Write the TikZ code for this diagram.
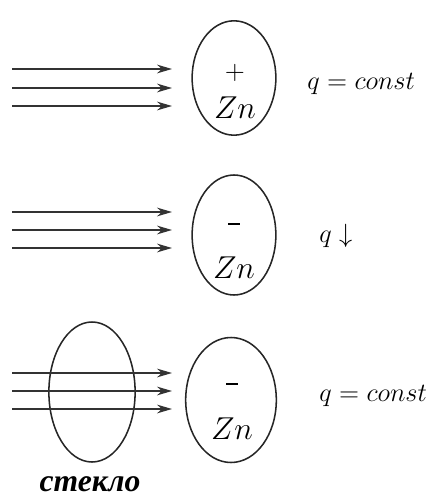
\documentclass[tikz,border=0pt]{standalone}
\usepackage{fontspec}
\newfontfamily\cyrfont{Liberation Serif}
\usetikzlibrary{shapes.geometric, arrows.meta, positioning}
\newcommand{\negsign}{\rule[0.6ex]{1.8mm}{0.55pt}}
\tikzset{
    plate/.style={ellipse, draw=black!85, line width=0.7pt, inner sep=0pt,
                  minimum width=13.4mm, minimum height=18.3mm},
    ray/.style={-{Stealth[length=2.4mm, width=1.4mm]}, line width=0.65pt, draw=black!80},
    chg/.style={font=\Large, inner sep=1pt},
    qlbl/.style={font=\large, anchor=west, inner sep=0pt},
}

\begin{document}
\begin{tikzpicture}[x=0.16mm, y=-0.16mm]
    \useasboundingbox (0,0) rectangle (428,497);
    % positive plate
    \node[plate] (zn1) at (234,78) {};
    \node[chg, font=\large] (s1) at (235,73) {$+$};
    \node[chg] (n1) at (235,108) {$Zn$};
    \node[qlbl] (q1) at (307,84) {$q = const$};
    % negative plate
    \node[plate, minimum height=19.2mm] (zn2) at (234,235) {};
    \node[chg] (s2) at (234,228) {\negsign};
    \node[chg] (n2) at (234,268) {$Zn$};
    \node[qlbl] (q2) at (319,236) {$q \downarrow$};
    % negative plate behind glass
    \node[plate, minimum width=14.5mm, minimum height=20mm] (zn3) at (231,400) {};
    \node[plate, minimum width=13.8mm, minimum height=22.4mm] (glass) at (92,392) {};
    \node[chg] (s3) at (232,388) {\negsign};
    \node[chg] (n3) at (232,429) {$Zn$};
    \node[qlbl] (q3) at (319,396) {$q = const$};
    \node[font=\Large\cyrfont\bfseries\itshape] (gl) at (90,484) {стекло};
    % light rays
    \foreach \y [count=\i] in {69,88,106} {
        \coordinate (a\i) at (12,\y);
        \coordinate (b\i) at (172,\y);
        \draw[ray] (a\i) -- (b\i);
    }
    \foreach \y [count=\i] in {212,230,248} {
        \coordinate (c\i) at (12,\y);
        \coordinate (d\i) at (172,\y);
        \draw[ray] (c\i) -- (d\i);
    }
    \foreach \y [count=\i] in {373,391,409} {
        \coordinate (e\i) at (12,\y);
        \coordinate (f\i) at (172,\y);
        \draw[ray] (e\i) -- (f\i);
    }
\end{tikzpicture}
\end{document}
